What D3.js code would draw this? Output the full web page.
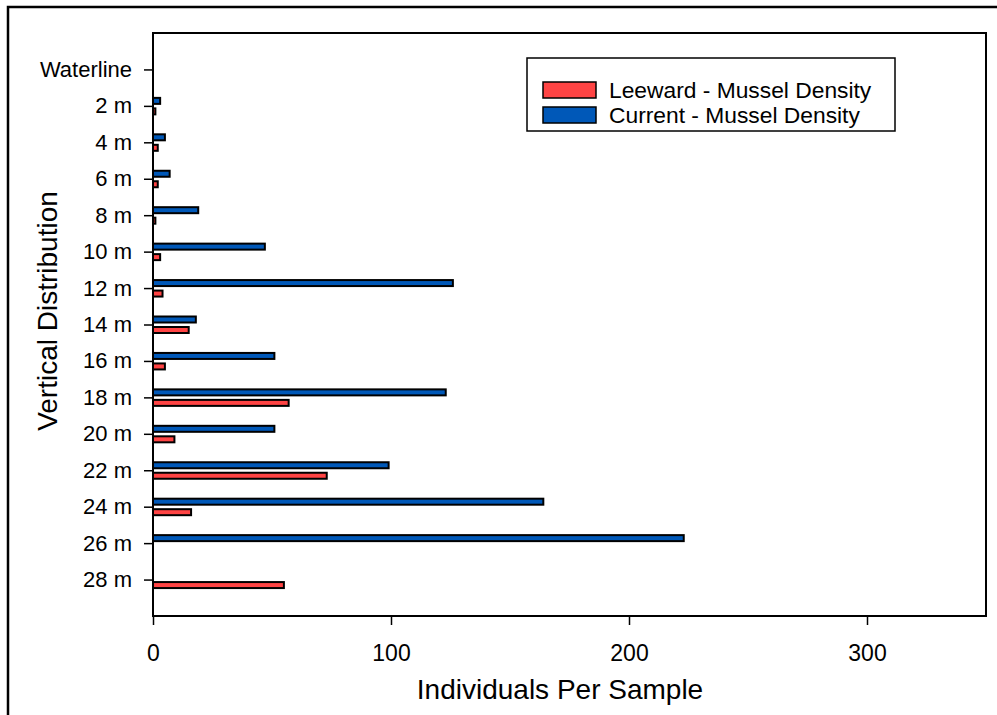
<!DOCTYPE html>
<html>
<head>
<meta charset="utf-8">
<script src="https://d3js.org/d3.v7.min.js"></script>
<style>
  body { margin: 0; background: #fff; }
  svg { display: block; font-family: "Liberation Sans", Arial, sans-serif; }
  .axis text { fill: #000; }
  .axis line { stroke: #000; stroke-width: 1.5; }
</style>
</head>
<body>
<svg id="chart" width="997" height="715"></svg>
<script>
// depth categories, top to bottom
var depths = ["Waterline", "2 m", "4 m", "6 m", "8 m", "10 m", "12 m", "14 m",
              "16 m", "18 m", "20 m", "22 m", "24 m", "26 m", "28 m"];
var leeward = [0, 1, 2, 2, 1, 3, 4, 15, 5, 57, 9, 73, 16, 0, 55];
var current = [0, 3, 5, 7, 19, 47, 126, 18, 51, 123, 51, 99, 164, 223, 0];
var xTicks = [0, 100, 200, 300];
var seriesNames = ["Leeward - Mussel Density", "Current - Mussel Density"];
var colors = ["#ff4444", "#0058b8"];

var svg = d3.select("#chart");
var plotL = 153, plotT = 33, plotR = 986, plotB = 616;

// outer border (runs off the right/bottom edge like the original)
svg.append("rect")
    .attr("x", 8).attr("y", 7)
    .attr("width", 1000).attr("height", 720)
    .attr("fill", "none").attr("stroke", "#000").attr("stroke-width", 2.5);

var x = d3.scaleLinear().domain([0, 350]).range([plotL, plotR]);
var y = d3.scalePoint().domain(depths).range([plotT, plotB]).padding(1);

// bars: current above the tick, leeward below
var rows = depths.map(function (d, i) { return { depth: d, lee: leeward[i], cur: current[i] }; });

svg.append("g").selectAll("rect")
    .data(rows.filter(function (d) { return d.cur > 0; }))
    .enter().append("rect")
    .attr("x", x(0))
    .attr("y", function (d) { return y(d.depth) - 8; })
    .attr("width", function (d) { return x(d.cur) - x(0); })
    .attr("height", 6)
    .attr("fill", colors[1]).attr("stroke", "#000").attr("stroke-width", 2);

svg.append("g").selectAll("rect")
    .data(rows.filter(function (d) { return d.lee > 0; }))
    .enter().append("rect")
    .attr("x", x(0))
    .attr("y", function (d) { return y(d.depth) + 2.5; })
    .attr("width", function (d) { return x(d.lee) - x(0); })
    .attr("height", 6)
    .attr("fill", colors[0]).attr("stroke", "#000").attr("stroke-width", 2);

// plot frame
svg.append("rect")
    .attr("x", plotL).attr("y", plotT)
    .attr("width", plotR - plotL).attr("height", plotB - plotT)
    .attr("fill", "none").attr("stroke", "#000").attr("stroke-width", 2);

var gx = svg.append("g")
    .attr("class", "axis")
    .attr("transform", "translate(0," + plotB + ")")
    .call(d3.axisBottom(x).tickValues(xTicks).tickSize(9).tickPadding(20));
gx.select(".domain").remove();
gx.selectAll("text").style("font-size", "23px");

var gy = svg.append("g")
    .attr("class", "axis")
    .attr("transform", "translate(" + plotL + ",0)")
    .call(d3.axisLeft(y).tickSize(9).tickPadding(12));
gy.select(".domain").remove();
gy.selectAll("text").style("font-size", "22px");

// axis titles
svg.append("text")
    .attr("x", 560).attr("y", 699)
    .attr("text-anchor", "middle")
    .style("font-size", "28px")
    .text("Individuals Per Sample");

svg.append("text")
    .attr("transform", "translate(57,311) rotate(-90)")
    .attr("text-anchor", "middle")
    .style("font-size", "28px")
    .text("Vertical Distribution");

// legend
var lg = svg.append("g");
lg.append("rect")
    .attr("x", 527).attr("y", 58)
    .attr("width", 368).attr("height", 73)
    .attr("fill", "#fff").attr("stroke", "#000").attr("stroke-width", 1.5);

seriesNames.forEach(function (name, i) {
    lg.append("rect")
        .attr("x", 543).attr("y", 82 + i * 25)
        .attr("width", 53).attr("height", 16)
        .attr("fill", colors[i]).attr("stroke", "#000").attr("stroke-width", 1.5);
    lg.append("text")
        .attr("x", 609).attr("y", 97.5 + i * 25.5)
        .style("font-size", "22.8px")
        .text(name);
});
</script>
</body>
</html>
